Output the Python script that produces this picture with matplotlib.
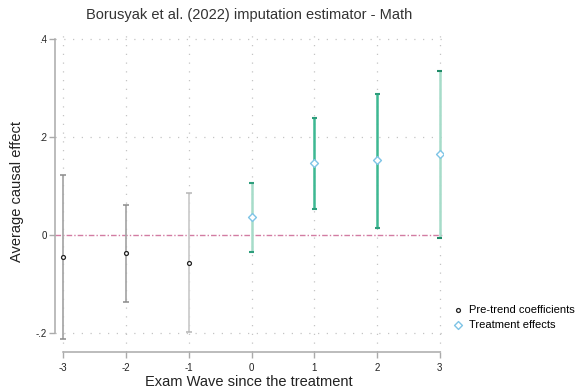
import matplotlib.pyplot as plt

plt.rcParams["font.family"] = ["Liberation Sans", "DejaVu Sans"]

# --------------------------------------------------
# Data
# --------------------------------------------------
pre_waves = [-3, -2, -1]
pre_coef = [-0.045, -0.036, -0.056]
pre_low = [-0.212, -0.137, -0.197]
pre_high = [0.124, 0.061, 0.086]
pre_colors = ["#a9a9a9", "#a9a9a9", "#cdcdcd"]

post_waves = [0, 1, 2, 3]
post_coef = [0.037, 0.147, 0.154, 0.167]
post_low = [-0.033, 0.054, 0.015, -0.006]
post_high = [0.107, 0.239, 0.289, 0.336]
post_colors = ["#a6dcc9", "#3db892", "#3db892", "#a6dcc9"]
post_caps = ["#2e9e7c", "#2e9e7c", "#2e9e7c", "#1f8a68"]

y_ticks = [-0.2, 0, 0.2, 0.4]
y_tick_labels = ["-.2", "0", ".2", ".4"]
x_ticks = [-3, -2, -1, 0, 1, 2, 3]

# --------------------------------------------------
# Figure
# --------------------------------------------------
fig = plt.figure(figsize=(5.79, 3.92), dpi=100)
W, H = 579, 392
ax = fig.add_axes([55 / W, 1 - 352 / H, 388 / W, 322 / H])

ax.set_xlim(-3.13, 3.05)
ax.set_ylim(-0.238, 0.419)

# grid
for y in [-0.2, 0.2, 0.4]:
    ax.axhline(y, color="#c4c4c4", linestyle=(0, (1, 6)), linewidth=0.9, zorder=0)
for x in x_ticks:
    ax.axvline(x, color="#c4c4c4", linestyle=(0, (1, 6)), linewidth=0.9, zorder=0)

# zero line
ax.axhline(0, color="#d27ca3", linestyle=(0, (4, 1.5, 1, 1.5)), linewidth=1.0, zorder=1)

# pre-trend intervals
for x, lo, hi, c in zip(pre_waves, pre_low, pre_high, pre_colors):
    ax.vlines(x, lo, hi, color=c, linewidth=1.3, zorder=2)
    ax.hlines([lo, hi], x - 0.045, x + 0.045, color="#8a8a8a" if c == "#a9a9a9" else "#b5b5b5",
              linewidth=1.1, zorder=2)

# treatment intervals
for x, lo, hi, c, cc in zip(post_waves, post_low, post_high, post_colors, post_caps):
    ax.vlines(x, lo, hi, color=c, linewidth=1.8, zorder=2)
    ax.hlines([lo, hi], x - 0.04, x + 0.04, color=cc, linewidth=1.5, zorder=2)

pre_pts = ax.scatter(pre_waves, pre_coef, s=8, marker="o", facecolor="white",
                     edgecolor="#222222", linewidth=0.9, zorder=3,
                     label="Pre-trend coefficients")
post_pts = ax.scatter(post_waves, post_coef, s=16, marker="D", facecolor="white",
                      edgecolor="#7ec4e6", linewidth=1.0, zorder=3,
                      label="Treatment effects")

# axes styling (Stata-like)
for side in ["top", "right"]:
    ax.spines[side].set_visible(False)
ax.spines["left"].set_bounds(-0.2, 0.4)
ax.spines["bottom"].set_bounds(-3, 3)
ax.spines["left"].set_color("#aaaaaa")
ax.spines["bottom"].set_color("#aaaaaa")
ax.spines["left"].set_linewidth(1.1)
ax.spines["bottom"].set_linewidth(1.1)

ax.set_yticks(y_ticks)
ax.set_yticklabels(y_tick_labels)
ax.set_xticks(x_ticks)
ax.set_xticklabels([str(v) for v in x_ticks])
ax.tick_params(axis="both", colors="#aaaaaa", labelcolor="#222222", labelsize=7,
               length=4, width=1.0)
ax.tick_params(axis="x", pad=4)
ax.tick_params(axis="y", pad=2)

ax.set_title("Borusyak et al. (2022) imputation estimator - Math",
             fontsize=10.5, color="#333333", pad=8)
ax.set_xlabel("Exam Wave since the treatment", fontsize=10.5, color="#222222", labelpad=1)
ax.set_ylabel("Average causal effect", fontsize=10.5, color="#222222", labelpad=8)

fig.legend(handles=[pre_pts, post_pts], loc="upper left",
           bbox_to_anchor=(451 / W, 1 - 305 / H), frameon=False, fontsize=8,
           handletextpad=0.4, labelspacing=0.45, borderaxespad=0, borderpad=0,
           handlelength=1.2)

plt.savefig("out.png", dpi=100)
plt.close()
